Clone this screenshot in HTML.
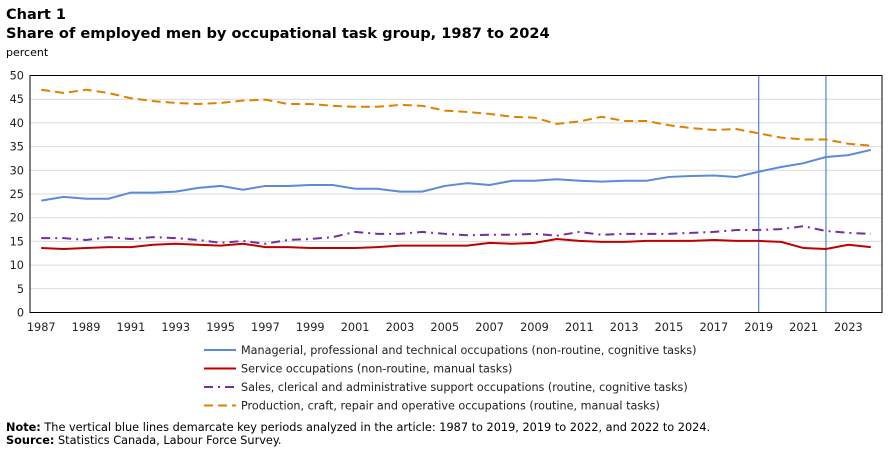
<!DOCTYPE html>
<html><head><meta charset="utf-8"><style>
body{margin:0;background:#fff;width:893px;height:451px;overflow:hidden;font-family:"DejaVu Sans","Liberation Sans",sans-serif;}
svg{position:absolute;left:0;top:0}
</style></head><body>
<svg width="893" height="451" id="c">
<text x="6" y="19" font-size="14.5" font-weight="bold" font-family="DejaVu Sans, sans-serif">Chart 1</text>
<text x="6" y="38" font-size="14.6" font-weight="bold" font-family="DejaVu Sans, sans-serif">Share of employed men by occupational  task group, 1987 to 2024</text>
<text x="6" y="56" font-size="11">percent</text>
<g id="grid"></g><g id="series"></g>
<rect x="30" y="75.5" width="852" height="237" fill="none" stroke="#000" stroke-width="1"/>
<g id="legend"></g>
<text x="6" y="431" font-size="11.3"><tspan font-weight="bold">Note:</tspan> The vertical blue lines demarcate key periods analyzed in the article: 1987 to 2019, 2019 to 2022, and 2022 to 2024.</text>
<text x="6" y="444" font-size="11.3"><tspan font-weight="bold">Source:</tspan> Statistics Canada, Labour Force Survey.</text>
</svg>
<script>
const years=[];for(let y=1987;y<=2024;y++)years.push(y);
const yTicks=[0,5,10,15,20,25,30,35,40,45,50];
const markerYears=[2019,2022];
const managerial=[23.6,24.4,24.0,24.0,25.3,25.3,25.5,26.3,26.7,25.9,26.7,26.7,26.9,26.9,26.1,26.1,25.5,25.5,26.7,27.3,26.9,27.8,27.8,28.1,27.8,27.6,27.8,27.8,28.6,28.8,28.9,28.6,29.7,30.7,31.5,32.8,33.2,34.3];
const service=[13.6,13.4,13.6,13.8,13.8,14.3,14.5,14.3,14.1,14.5,13.8,13.8,13.6,13.6,13.6,13.8,14.1,14.1,14.1,14.1,14.7,14.5,14.7,15.5,15.1,14.9,14.9,15.1,15.1,15.1,15.3,15.1,15.1,14.9,13.6,13.4,14.3,13.8];
const sales=[15.7,15.7,15.3,15.9,15.5,15.9,15.7,15.3,14.7,15.1,14.5,15.3,15.5,15.9,17.0,16.6,16.6,17.0,16.6,16.3,16.4,16.4,16.6,16.2,17.0,16.4,16.6,16.6,16.6,16.8,17.0,17.4,17.4,17.6,18.2,17.2,16.8,16.6];
const production=[47.0,46.3,47.0,46.3,45.2,44.6,44.2,44.0,44.2,44.7,44.9,44.0,44.0,43.6,43.4,43.4,43.8,43.6,42.6,42.3,41.9,41.3,41.1,39.8,40.3,41.3,40.4,40.4,39.5,38.9,38.5,38.7,37.8,36.9,36.5,36.5,35.6,35.2];
const seriesNames=["Managerial, professional and technical occupations (non-routine, cognitive tasks)","Service occupations (non-routine, manual tasks)","Sales, clerical and administrative support occupations (routine, cognitive tasks)","Production, craft, repair and operative occupations (routine, manual tasks)"];
const NS="http://www.w3.org/2000/svg";
const L=30,R=882,T=75.5,B=312.5;
const step=(R-L)/years.length;
const xs=y=>L+step*(years.indexOf(y)+0.5);
const ys=v=>B-(v/50)*(B-T);
function mk(tag,a,p){const e=document.createElementNS(NS,tag);for(const k in a)e.setAttribute(k,a[k]);p.appendChild(e);return e;}
const grid=document.getElementById('grid');
yTicks.forEach(t=>{
 if(t>0&&t<50){const g=mk('line',{x1:L,x2:R,y1:ys(t),y2:ys(t),stroke:'#d9d9d9','stroke-width':1},grid);
 
 }
 const tx=mk('text',{x:24,y:ys(t)+4,'font-size':11.3,'text-anchor':'end',fill:'#222'},grid);
 tx.textContent=t;
 
 
});
years.forEach((y,i)=>{if(i%2===0){const tx=mk('text',{x:xs(y),y:331,'font-size':11.3,'text-anchor':'middle',fill:'#222'},grid);
 tx.textContent=y;
 
 }});
const styles=[{c:'#5b8ad6',d:'',n:'managerial-line'},{c:'#c00000',d:'',n:'service-line'},{c:'#7030a0',d:'9 5 2 5',n:'sales-line'},{c:'#e08000',d:'9 5',n:'production-line'}];
const data=[managerial,service,sales,production];
const sg=document.getElementById('series');
markerYears.forEach(y=>{const l=mk('line',{x1:xs(y),x2:xs(y),y1:T,y2:B,stroke:'#5b8ad6','stroke-width':1.3},sg);
 
 });
data.forEach((arr,i)=>{
 const p=mk('polyline',{points:arr.map((v,j)=>xs(years[j])+','+ys(v)).join(' '),fill:'none',stroke:styles[i].c,'stroke-width':2,'stroke-dasharray':styles[i].d},sg);
 
 
});
const lg=document.getElementById('legend');
seriesNames.forEach((n,i)=>{
 const y=350+i*18.5;
 const l=mk('line',{x1:204,x2:236,y1:y,y2:y,stroke:styles[i].c,'stroke-width':2,'stroke-dasharray':styles[i].d},lg);
 
 
 const t=mk('text',{x:241,y:y+4,'font-size':11.2,fill:'#222'},lg);
 t.textContent=n;
 
 
});
</script>
</body></html>
